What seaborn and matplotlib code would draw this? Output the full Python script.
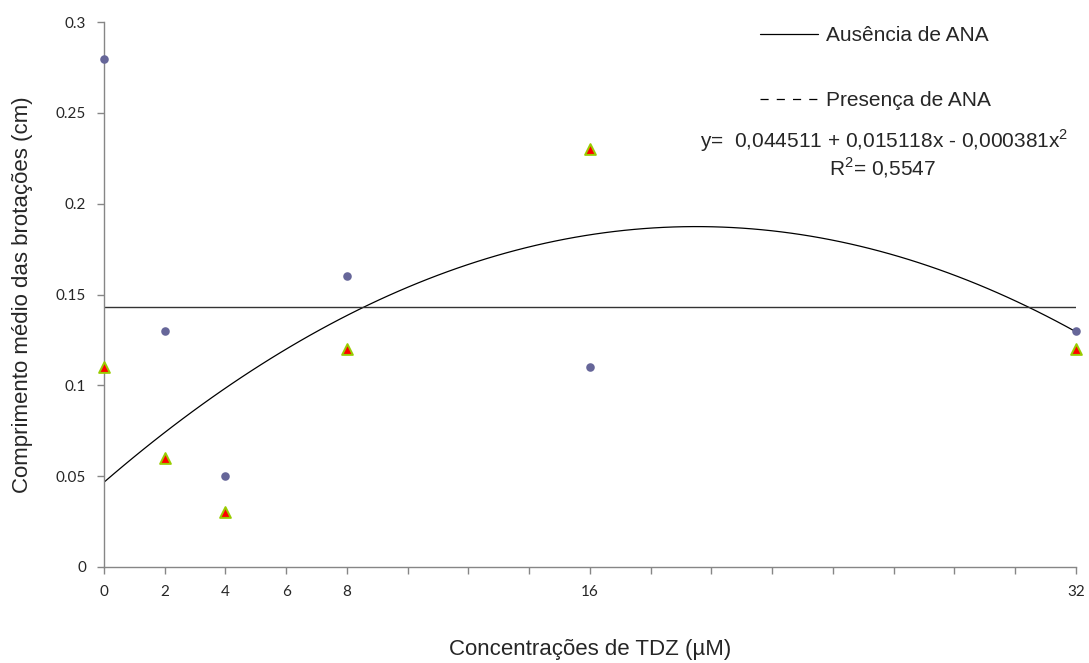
"""
Comprimento médio das brotações em função da concentração de TDZ,
com e sem ANA.
"""
import numpy as np
import pandas as pd
import matplotlib
matplotlib.use("Agg")
import matplotlib.pyplot as plt
from matplotlib.lines import Line2D
import seaborn as sns

# --- dados ---
tdz = [0, 2, 4, 8, 16, 32]
sem_ana = [0.28, 0.13, 0.05, 0.16, 0.11, 0.13]    # círculos
com_ana = [0.11, 0.06, 0.03, 0.12, 0.23, 0.12]    # triângulos
x_ticks = list(range(0, 33, 2))
x_labels_shown = [0, 2, 4, 6, 8, 16, 32]
y_ticks = [0, 0.05, 0.1, 0.15, 0.2, 0.25, 0.3]
y_labels = ["0", "0.05", "0.1", "0.15", "0.2", "0.25", "0.3"]

df = pd.DataFrame({"tdz": tdz, "sem": sem_ana, "com": com_ana})

sns.set_theme(style="white")
plt.rcParams["font.family"] = ["Liberation Sans", "DejaVu Sans"]

fig = plt.figure(figsize=(10.89, 6.63), dpi=100)
ax = fig.add_axes([0.0955, 0.145, 0.8925, 0.8215])

# curva de tendência (polinômio de 2º grau) para os triângulos
sns.regplot(data=df, x="tdz", y="com", order=2, ci=None, scatter=False,
            truncate=True, line_kws={"color": "black", "lw": 0.9}, ax=ax)
# média dos círculos (linha horizontal)
ax.axhline(np.mean(sem_ana), color="#333333", lw=1.0)

sns.scatterplot(data=df, x="tdz", y="sem", color="#666699", s=38,
                edgecolor="#666699", linewidth=0, clip_on=False, zorder=4, ax=ax)
sns.scatterplot(data=df, x="tdz", y="com", color="#FF0000", marker="^", s=60,
                edgecolor="#99CC00", linewidth=1.4, clip_on=False, zorder=4, ax=ax)

ax.set_xlim(0, 32)
ax.set_ylim(0, 0.3)
ax.set_xticks(x_ticks)
ax.set_xticklabels([str(t) if t in x_labels_shown else "" for t in x_ticks],
                   fontfamily="Lato", fontsize=11)
ax.set_yticks(y_ticks)
ax.set_yticklabels(y_labels, fontfamily="Lato", fontsize=11)
ax.tick_params(axis="both", direction="out", length=5, width=1,
               color="#868686", bottom=True, left=True, pad=8)

for side in ["top", "right"]:
    ax.spines[side].set_visible(False)
for side in ["left", "bottom"]:
    ax.spines[side].set_color("#868686")
    ax.spines[side].set_linewidth(1)

ax.set_xlabel("Concentrações de TDZ (µM)", fontsize=16, labelpad=29)
ax.set_ylabel("Comprimento médio das brotações (cm)", fontsize=16, labelpad=16)

handles = [Line2D([], [], color="black", lw=0.9, ls="-"),
           Line2D([], [], color="black", lw=0.9, ls=(0, (6.5, 6.5)))]
fig.legend(handles, ["Ausência de ANA", "Presença de ANA"], loc="upper left",
           bbox_to_anchor=(760 / 1089, 1 - 26 / 663), frameon=False, fontsize=15,
           labelspacing=2.2, handlelength=2.8, handletextpad=0.35,
           borderpad=0, borderaxespad=0)

fig.text(1068 / 1089, 1 - 141 / 663,
         "y=  0,044511 + 0,015118x - 0,000381x$^{\\mathregular{2}}$",
         ha="right", va="center", fontsize=15)
fig.text(882 / 1089, 1 - 168 / 663, "R$^{\\mathregular{2}}$= 0,5547",
         ha="center", va="center", fontsize=15)

fig.savefig("out.png", dpi=100)
